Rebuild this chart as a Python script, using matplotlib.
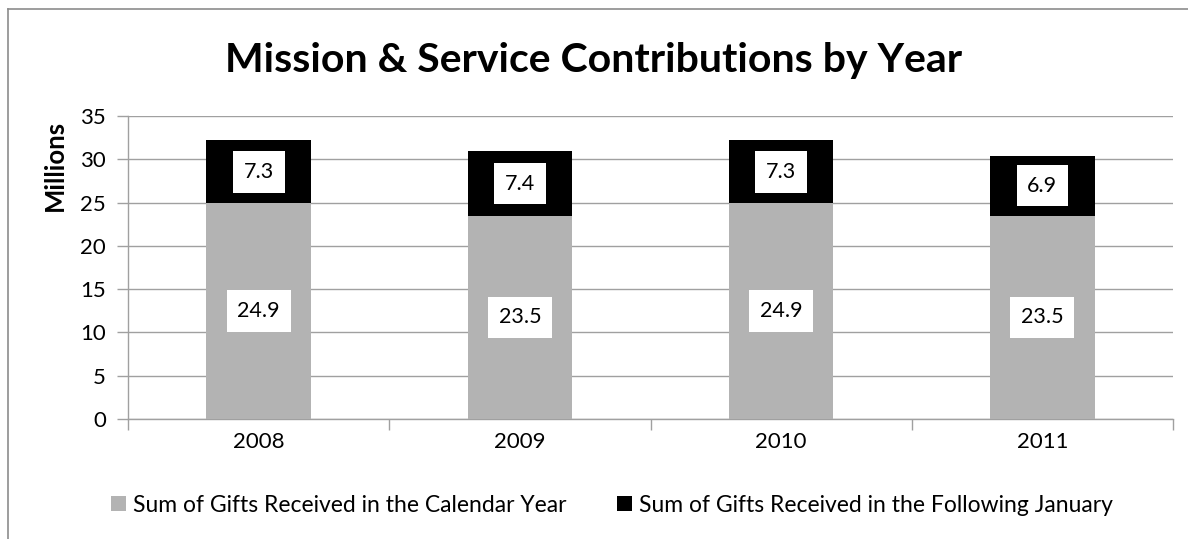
import matplotlib
matplotlib.use("Agg")
import matplotlib.pyplot as plt
from matplotlib.lines import Line2D

years = ["2008", "2009", "2010", "2011"]
calendar_year = [24.9, 23.5, 24.9, 23.5]
following_january = [7.3, 7.4, 7.3, 6.9]
series_names = ["Sum of Gifts Received in the Calendar Year",
                "Sum of Gifts Received in the Following January"]
title = "Mission & Service Contributions by Year"
y_ticks = [0, 5, 10, 15, 20, 25, 30, 35]

FONT = "Lato"
W, H = 1188, 539
fig = plt.figure(figsize=(W / 100, H / 100), dpi=100)
fig.patch.set_facecolor("white")

# chart frame (only left and top edges visible in the reference)
fig.add_artist(Line2D([8 / W, 8 / W], [0, 1 - 9 / H], color="#8c8c8c", lw=1.2))
fig.add_artist(Line2D([8 / W, 1], [1 - 9 / H, 1 - 9 / H], color="#8c8c8c", lw=1.2))

left, right, top, bottom = 128 / W, 1173 / W, 1 - 116 / H, 1 - 419 / H
ax = fig.add_axes([left, bottom, right - left, top - bottom])

x = list(range(len(years)))
grid_c = "#a0a0a0"
b1 = ax.bar(x, calendar_year, width=0.4, color="#b3b3b3", zorder=3,
            label=series_names[0])
b2 = ax.bar(x, following_january, width=0.4, bottom=calendar_year,
            color="#000000", zorder=3, label=series_names[1])

box = dict(boxstyle="square,pad=0.5", fc="white", ec="none")
for xi, v in zip(x, calendar_year):
    ax.text(xi, v / 2, f"{v:.1f}", ha="center", va="center", fontsize=15.5,
            family=FONT, zorder=5, bbox=box)
for xi, b, v in zip(x, calendar_year, following_january):
    ax.text(xi, b + v / 2, f"{v:.1f}", ha="center", va="center", fontsize=15.5,
            family=FONT, zorder=5, bbox=box)

ax.set_xlim(-0.5, len(years) - 0.5)
ax.set_ylim(0, 35)
ax.set_yticks(y_ticks)
ax.set_yticklabels([str(t) for t in y_ticks], family=FONT, fontsize=16)
ax.yaxis.grid(True, color=grid_c, lw=1.0, zorder=0)
ax.set_axisbelow(True)

ax.set_xticks(x)
ax.set_xticklabels(years, family=FONT, fontsize=16)
ax.set_xticks([i - 0.5 for i in range(len(years) + 1)], minor=True)
ax.tick_params(axis="x", which="major", length=0, pad=9)
ax.tick_params(axis="x", which="minor", length=8, color=grid_c, width=1)
ax.tick_params(axis="y", length=8, color=grid_c, width=1, pad=8)

for s in ["top", "right"]:
    ax.spines[s].set_visible(False)
for s in ["left", "bottom"]:
    ax.spines[s].set_color(grid_c)
    ax.spines[s].set_linewidth(1.0)

fig.text(55 / W, 1 - 165 / H, "Millions", rotation=90, ha="center",
         va="center", fontsize=18.5, fontweight="bold", family=FONT)

fig.text(594 / W, 1 - 72 / H, title, ha="center", va="baseline",
         fontsize=29.5, fontweight="bold", family=FONT)

leg = fig.legend(handles=[b1, b2], labels=series_names, loc="center",
                 bbox_to_anchor=(612 / W, 1 - 505 / H), ncol=2, frameon=False,
                 prop=dict(family=FONT, size=16.5), handlelength=0.65,
                 handleheight=0.65, handletextpad=0.3, columnspacing=2.2,
                 borderpad=0, borderaxespad=0)

fig.savefig("out.png", dpi=100, facecolor="white")
